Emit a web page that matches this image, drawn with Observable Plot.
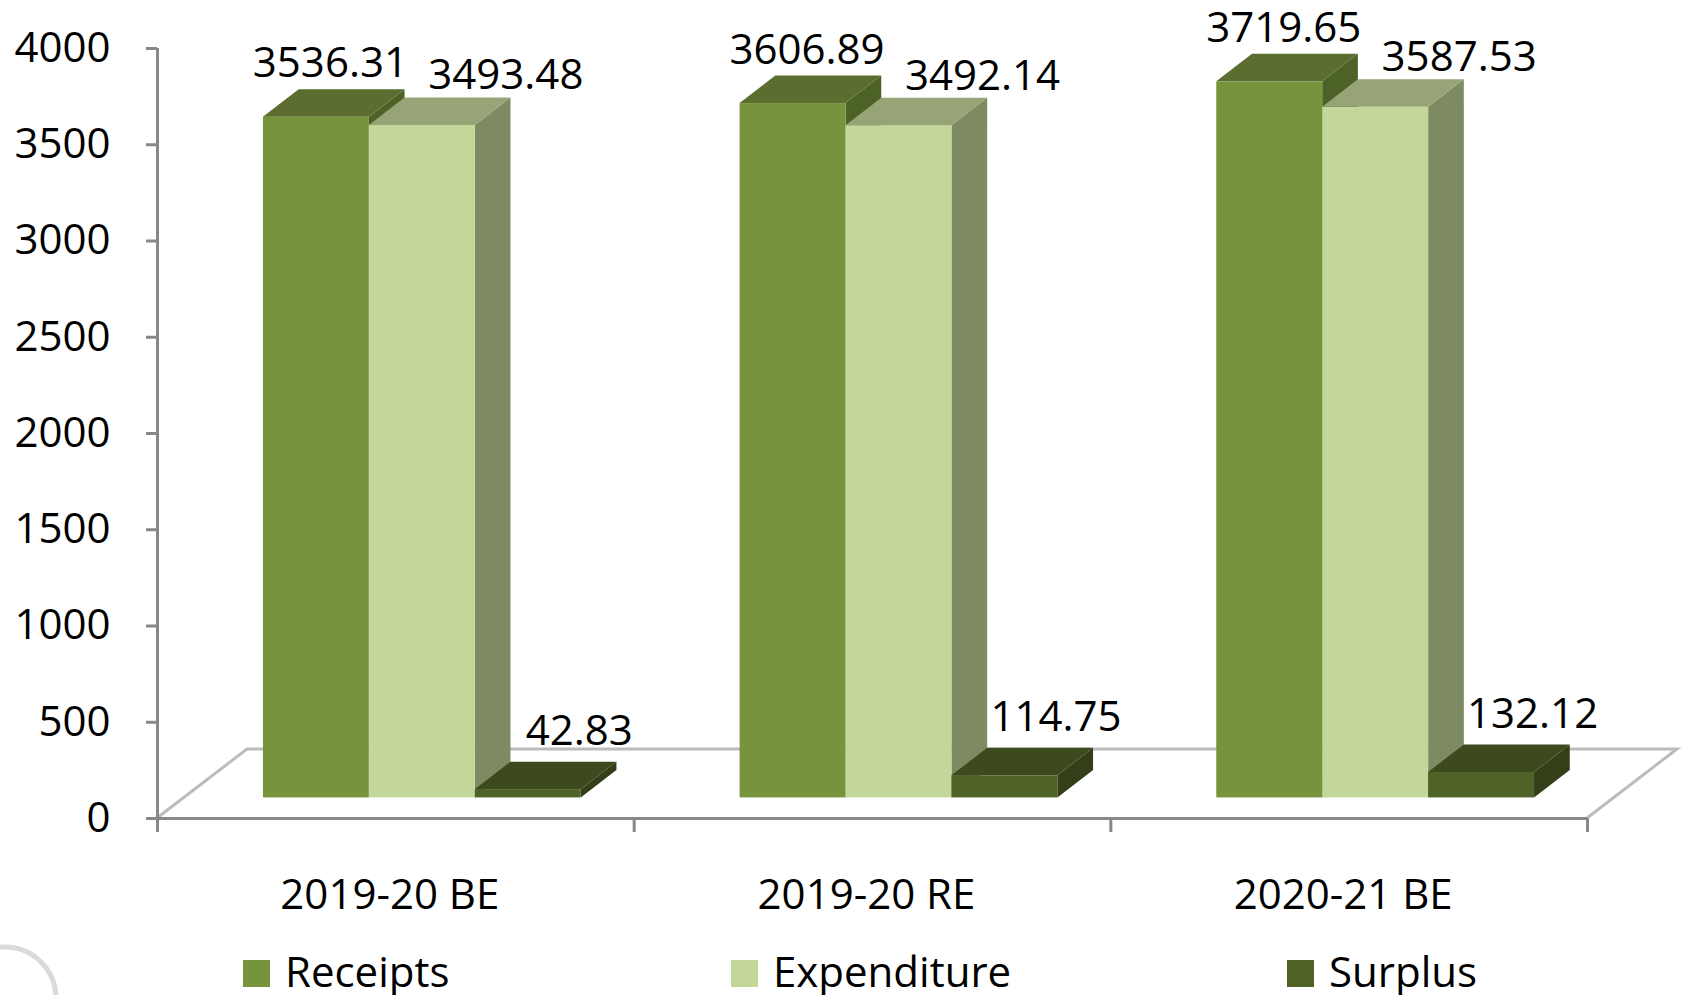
<!DOCTYPE html>
<html>
<head>
<meta charset="utf-8">
<script src="https://cdn.jsdelivr.net/npm/d3@7"></script>
<script src="https://cdn.jsdelivr.net/npm/@observablehq/plot@0.6"></script>
<style>
  html, body { margin: 0; padding: 0; background: #ffffff; }
  #page { position: relative; width: 1684px; height: 995px; overflow: hidden; background: #ffffff; font-family: "Open Sans", sans-serif; }
  #legend { position: relative; width: 1684px; height: 55px; }
  .item { position: absolute; top: 20px; display: flex; align-items: flex-start; }
  .sw { width: 27px; height: 27px; margin-right: 15px; }
  .lbl { font-size: 42px; line-height: 27px; position: relative; top: -3px; color: #000; white-space: nowrap; }
  #ring { position: absolute; left: 0; top: 0; pointer-events: none; }
</style>
</head>
<body>
<div id="page">
  <div id="chart"></div>
  <div id="legend"></div>
  <svg id="ring" width="1684" height="995"><circle cx="5" cy="998" r="51" fill="none" stroke="#dadada" stroke-width="5"></circle></svg>
</div>
<script>
// ---- data ----
const categories = ["2019-20 BE", "2019-20 RE", "2020-21 BE"];
const seriesNames = ["Receipts", "Expenditure", "Surplus"];
const receipts = [3536.31, 3606.89, 3719.65];
const expenditure = [3493.48, 3492.14, 3587.53];
const surplus = [42.83, 114.75, 132.12];
const yTicks = [0, 500, 1000, 1500, 2000, 2500, 3000, 3500, 4000];

// ---- styles ----
const frontColors = ["#77933c", "#c4d79b", "#4f6228"];
const topColors   = ["#5b6e2f", "#97a476", "#3c4a1e"];
const sideColors  = ["#4d6226", "#7e8a62", "#323f19"];
const FRONT = [26.5, -20.6];   // bar row depth shift (px)
const DEPTH = [35.7, -27.5];   // bar depth (px)
const FLOOR = [90, -69];       // floor depth (px)
const labelOffsets = [[40.5, -74], [110, -70], [77.5, -79]];

const seriesValues = [receipts, expenditure, surplus];
const rows = categories.flatMap((c, g) =>
  seriesValues.map((arr, s) => ({category: c, g, s, series: seriesNames[s], value: arr[g]}))
);

const lead = 1 / 6, slot = 2 / 9;
const bx1 = r => r.g + lead + r.s * slot;
const bx2 = r => r.g + lead + (r.s + 1) * slot;
const bxm = r => r.g + lead + (r.s + 0.5) * slot;

function floorMark(index, scales) {
  const g = d3.create("svg:g");
  const x0 = scales.x(0), x3 = scales.x(categories.length), y0 = scales.y(0);
  const pts = [[x0, y0], [x0 + FLOOR[0], y0 + FLOOR[1]], [x3 + FLOOR[0], y0 + FLOOR[1]], [x3, y0]];
  g.append("path").attr("d", "M" + pts.join("L"))
    .attr("fill", "#ffffff").attr("stroke", "#bcbcbc").attr("stroke-width", 3).attr("stroke-linejoin", "miter");
  return g.node();
}

function facesMark(kind) {
  return function (index, scales) {
    const g = d3.create("svg:g");
    for (const r of rows) {
      const xa = scales.x(bx1(r)) + FRONT[0], xb = scales.x(bx2(r)) + FRONT[0];
      const y0 = scales.y(0) + FRONT[1], yv = scales.y(r.value) + FRONT[1];
      const [dx, dy] = DEPTH;
      let pts, fill;
      if (kind === "side") {
        pts = [[xb, yv], [xb + dx, yv + dy], [xb + dx, y0 + dy], [xb, y0]];
        fill = sideColors[r.s];
      } else {
        pts = [[xa, yv], [xa + dx, yv + dy], [xb + dx, yv + dy], [xb, yv]];
        fill = topColors[r.s];
      }
      g.append("path").attr("d", "M" + pts.join("L") + "Z").attr("fill", fill);
    }
    return g.node();
  };
}

const labelMarks = seriesNames.map((name, s) =>
  Plot.text(rows.filter(r => r.s === s), {
    x: bxm, y: "value", text: r => r.value.toFixed(2),
    dx: labelOffsets[s][0], dy: labelOffsets[s][1],
    fill: "#000", fontSize: 42, textAnchor: "middle"
  })
);

const chart = Plot.plot({
  width: 1684,
  height: 940,
  marginLeft: 157,
  marginRight: 97,
  marginTop: 48,
  marginBottom: 122,
  style: {fontFamily: "Open Sans", fontSize: "42px", background: "#ffffff", color: "#000", overflow: "visible"},
  x: {domain: [0, categories.length], axis: null},
  y: {domain: [0, 4000], axis: null},
  color: {domain: seriesNames, range: frontColors},
  marks: [
    floorMark,
    Plot.ruleY([0], {x1: 0, x2: categories.length, stroke: "#888888", strokeWidth: 3}),
    Plot.ruleX([0], {y1: 0, y2: 4000, stroke: "#888888", strokeWidth: 3}),
    Plot.axisY({ticks: yTicks, tickSize: 11, tickPadding: 36, tickFormat: d => String(d), label: null, stroke: "#888888", strokeWidth: 3, fill: "#000", fontSize: 42}),
    Plot.axisX({ticks: d3.range(categories.length + 1), tickSize: 14, tickFormat: () => "", label: null, stroke: "#888888", strokeWidth: 3}),
    Plot.text(categories, {x: (d, i) => i + 0.5, y: 0, text: d => d, dx: -6, dy: 61, lineAnchor: "top", fontSize: 42, fill: "#000"}),
    facesMark("side"),
    Plot.rect(rows, {x1: bx1, x2: bx2, y1: 0, y2: "value", fill: "series", dx: FRONT[0], dy: FRONT[1]}),
    facesMark("top"),
    ...labelMarks
  ]
});
document.getElementById("chart").appendChild(chart);

// ---- legend ----
const legendLeft = [243, 731, 1287];
const legend = document.getElementById("legend");
seriesNames.forEach((name, s) => {
  const item = document.createElement("div");
  item.className = "item";
  item.style.left = legendLeft[s] + "px";
  const sw = document.createElement("div");
  sw.className = "sw";
  sw.style.background = frontColors[s];
  const lb = document.createElement("span");
  lb.className = "lbl";
  lb.textContent = name;
  item.appendChild(sw);
  item.appendChild(lb);
  legend.appendChild(item);
});
</script>
</body>
</html>
